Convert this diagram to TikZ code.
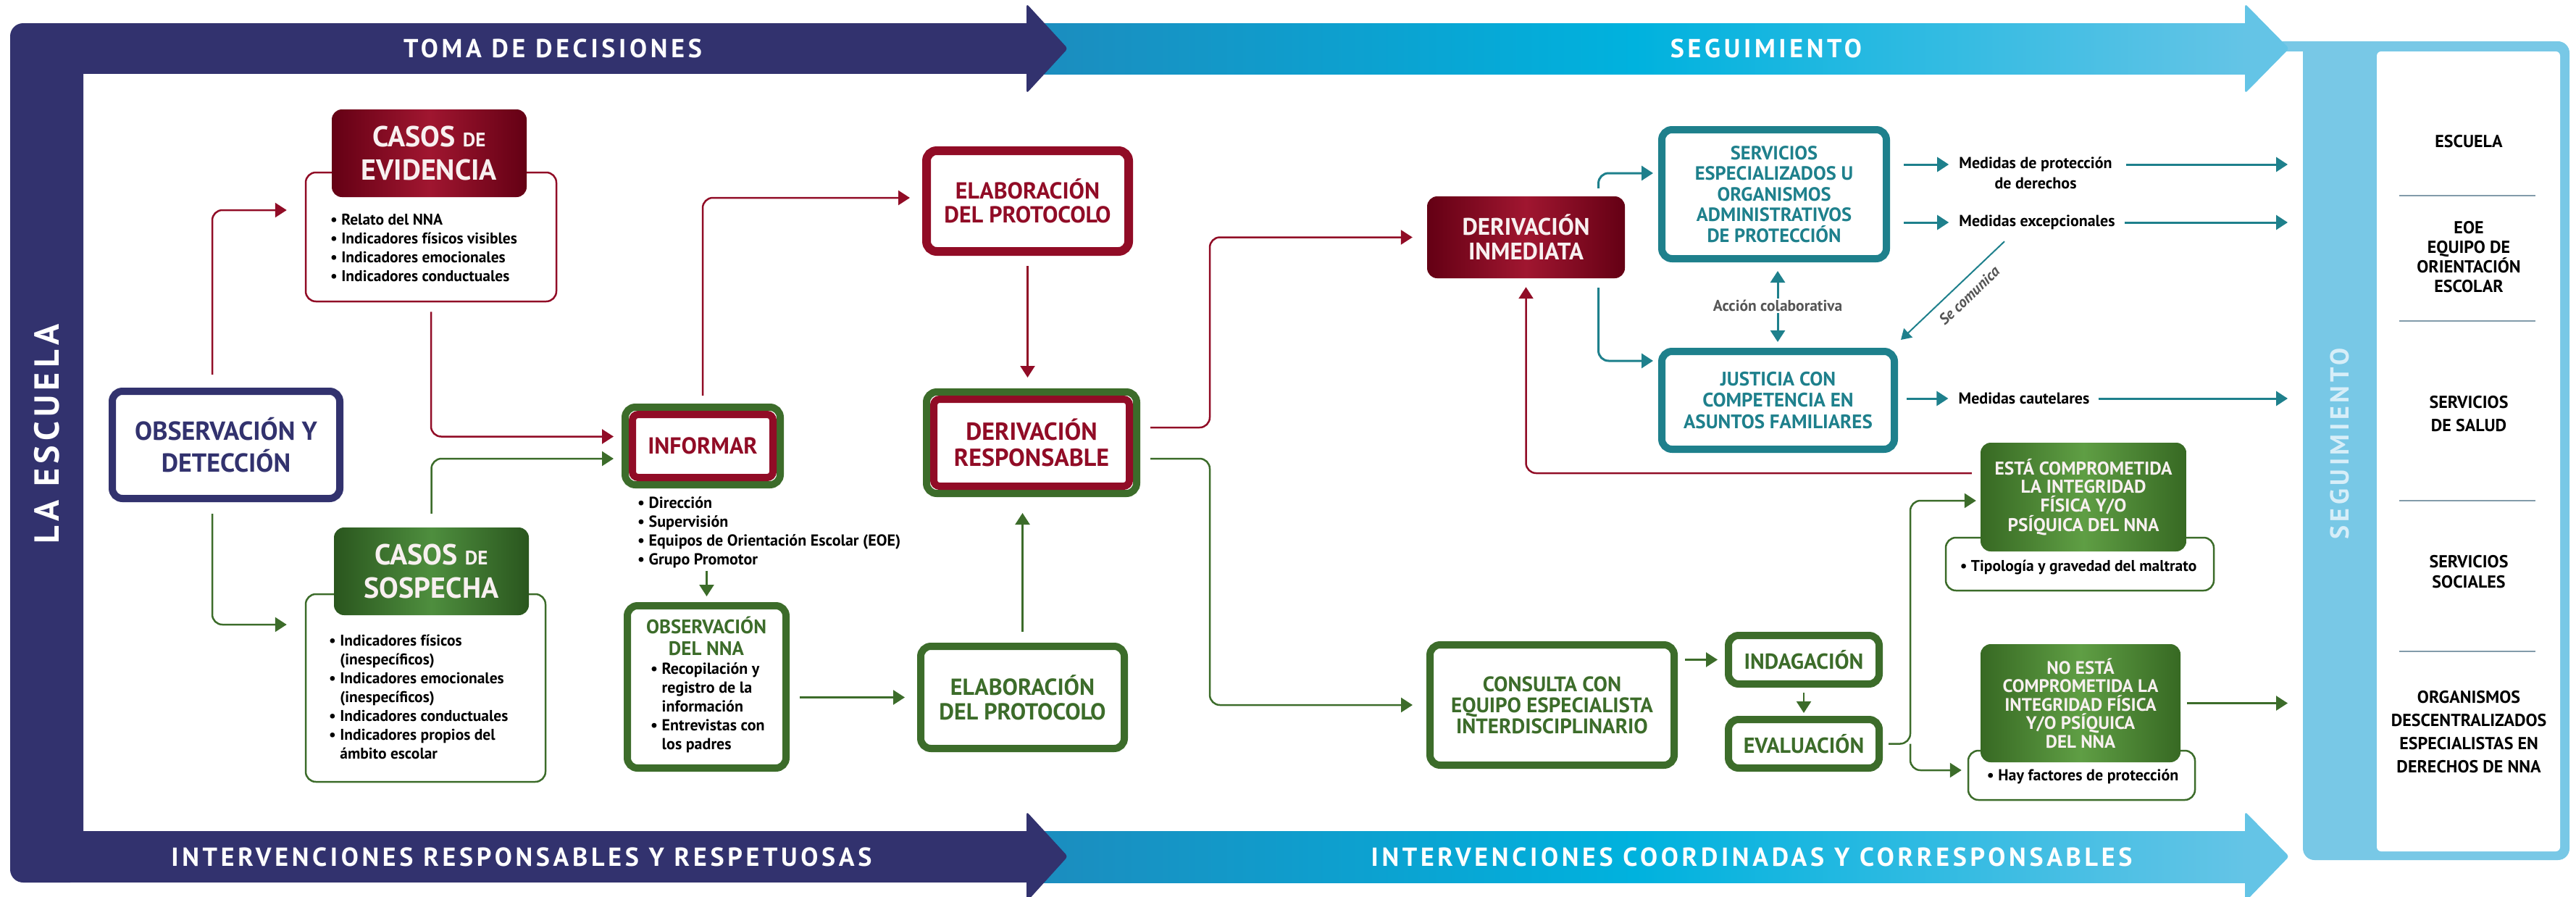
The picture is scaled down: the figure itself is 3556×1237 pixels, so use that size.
\documentclass[tikz,border=0pt]{standalone}
\usepackage{fontspec}
\setmainfont{PT Sans}
\newfontfamily\bandfont{PT Sans}[LetterSpace=13]
\usetikzlibrary{arrows.meta,calc}
\newcommand\myfs[2]{\fontsize{#1pt}{#2pt}\selectfont}
\definecolor{cNavy}{RGB}{50,50,110}
\definecolor{cRed}{RGB}{145,12,38}
\definecolor{cGreen}{RGB}{60,108,42}
\definecolor{cTeal}{RGB}{30,128,140}
\definecolor{cRedDark}{RGB}{100,0,20}
\definecolor{cRedLight}{RGB}{160,22,48}
\definecolor{cGrnDark}{RGB}{42,86,30}
\definecolor{cGrnLight}{RGB}{78,142,62}
\definecolor{cGrnDark2}{RGB}{55,105,35}
\definecolor{cGrnLight2}{RGB}{95,158,68}
\definecolor{cCyanL}{RGB}{28,140,190}
\definecolor{cCyanM}{RGB}{0,178,222}
\definecolor{cCyanR}{RGB}{100,196,230}
\definecolor{cPanel}{RGB}{120,200,230}
\definecolor{cSep}{RGB}{130,155,170}
\definecolor{cGray}{RGB}{85,85,85}
\definecolor{cWhiteTxt}{RGB}{248,240,240}
\definecolor{cBandTxt}{RGB}{215,238,248}
\begin{document}
\begin{tikzpicture}[x=1pt,y=-1pt,
  box/.style={rounded corners=14pt, align=center, inner sep=0pt, fill=white},
  navybox/.style={box, draw=cNavy, line width=10pt, text=cNavy},
  redbox/.style={box, draw=cRed, line width=12pt, text=cRed},
  greenbox/.style={box, draw=cGreen, line width=10pt, text=cGreen},
  tealbox/.style={box, draw=cTeal, line width=10pt, text=cTeal},
  thinred/.style={box, draw=cRed, line width=2.5pt},
  thingreen/.style={box, draw=cGreen, line width=2.5pt},
  ring/.style={draw=cRed, line width=10pt, rounded corners=8pt, inner sep=0pt},
  hdr/.style={rounded corners=14pt, align=center, inner sep=0pt, text=cWhiteTxt},
  redhdr/.style={hdr, left color=cRedDark, right color=cRedDark, middle color=cRedLight},
  grnhdr/.style={hdr, left color=cGrnDark, right color=cGrnDark, middle color=cGrnLight},
  grnhdr2/.style={hdr, left color=cGrnDark2, right color=cGrnDark2, middle color=cGrnLight2},
  txt/.style={inner sep=0pt, align=left, font=\myfs{21.5}{26}\bfseries},
  ctxt/.style={inner sep=0pt, align=center, font=\myfs{22}{26}\bfseries},
  ptxt/.style={inner sep=0pt, align=center, font=\myfs{24}{30}\bfseries},
  conn/.style={line width=2.5pt, rounded corners=14pt},
  tipA/.style={-{Triangle[length=16pt,width=20pt]}},
  redarr/.style={conn, tipA, draw=cRed},
  grnarr/.style={conn, tipA, draw=cGreen},
  tealarr/.style={conn, tipA, draw=cTeal, line width=3pt},
  bandtxt/.style={text=white, font=\bandfont\bfseries\myfs{36}{40}, inner sep=0pt},
]
\useasboundingbox (0,0) rectangle (3556,1237);
\clip (0,0) rectangle (3556,1237);
\fill[white] (0,0) rectangle (3556,1237);
% right panel
\fill[cPanel, rounded corners=16pt] (3179,57) rectangle (3547,1187);
\fill[cPanel] (3150,57) rectangle (3200,71);
\fill[white, rounded corners=6pt] (3281,71) rectangle (3534,1175);
% cyan bands
\shade[left color=cCyanL, right color=cCyanR, middle color=cCyanM] (1417,32) rectangle (3100,102);
\shade[left color=cCyanL, right color=cCyanR, middle color=cCyanM] (1417,1147) rectangle (3100,1218);
\fill[cCyanR, rounded corners=4pt] (3099,5) -- (3160,67) -- (3099,129) -- cycle;
\fill[cCyanR, rounded corners=4pt] (3099,1120) -- (3160,1182) -- (3099,1245) -- cycle;
% navy frame
\fill[cNavy, rounded corners=18pt] (14,32) rectangle (115,1218);
\fill[cNavy] (60,32) rectangle (1418,102);
\fill[cNavy] (60,1147) rectangle (1418,1218);
\fill[cNavy, rounded corners=4pt] (1417,5) -- (1474,67) -- (1417,129) -- cycle;
\fill[cNavy, rounded corners=4pt] (1417,1120) -- (1474,1182) -- (1417,1245) -- cycle;
% band texts
\node[bandtxt] (tTop1) at (763,67) {TOMA DE DECISIONES};
\node[bandtxt] (tTop2) at (2438,67) {SEGUIMIENTO};
\node[bandtxt] (tBot1) at (720,1183) {INTERVENCIONES RESPONSABLES Y RESPETUOSAS};
\node[bandtxt] (tBot2) at (2418,1183) {INTERVENCIONES COORDINADAS Y CORRESPONSABLES};
\node[bandtxt, rotate=90, font=\bandfont\bfseries\myfs{48}{50}] (tLeft) at (65,599) {LA ESCUELA};
\node[bandtxt, rotate=90, text=cBandTxt, font=\bandfont\bfseries\myfs{36}{40}] (tRight) at (3230,612) {SEGUIMIENTO};
% right panel content
\node[ptxt] (rp1) at (3408,195) {ESCUELA};
\node[ptxt, font=\myfs{24}{27}\bfseries] (rp2) at (3408,355) {EOE\\EQUIPO DE\\ORIENTACIÓN\\ESCOLAR};
\node[ptxt, font=\myfs{24}{32}\bfseries] (rp3) at (3408,571) {SERVICIOS\\DE SALUD};
\node[ptxt, font=\myfs{24}{28}\bfseries] (rp4) at (3408,789) {SERVICIOS\\SOCIALES};
\node[ptxt, font=\myfs{24}{32}\bfseries] (rp5) at (3408,1010) {ORGANISMOS\\DESCENTRALIZADOS\\ESPECIALISTAS EN\\DERECHOS DE NNA};
\foreach \yy in {270,443,691,899} \draw[cSep, line width=2pt] (3312,\yy) -- (3500,\yy);
\coordinate (panelL) at (3158,0);
% left column
\node[navybox, minimum width=314pt, minimum height=148pt, font=\myfs{36}{44}\bfseries] (obs) at (312,614) {OBSERVACIÓN Y\\DETECCIÓN};
\node[thinred, minimum width=346pt, minimum height=178pt] (evbody) at (595,327) {};
\node[redhdr, minimum width=269pt, minimum height=121pt, font=\myfs{40}{46}\bfseries] (evhead) at (592.5,211.5) {CASOS {\myfs{27}{46}\bfseries DE}\\EVIDENCIA};
\node[txt, anchor=west] (evlist) at (456,342) {• Relato del NNA\\• Indicadores físicos visibles\\• Indicadores emocionales\\• Indicadores conductuales};
\node[thingreen, minimum width=331pt, minimum height=259pt] (sobody) at (587.5,949.5) {};
\node[grnhdr, minimum width=269pt, minimum height=121pt, font=\myfs{40}{46}\bfseries] (sohead) at (595.5,788.5) {CASOS {\myfs{27}{46}\bfseries DE}\\SOSPECHA};
\node[txt, anchor=west] (solist) at (454,962) {• Indicadores físicos\\\phantom{• }(inespecíficos)\\• Indicadores emocionales\\\phantom{• }(inespecíficos)\\• Indicadores conductuales\\• Indicadores propios del\\\phantom{• }ámbito escolar};
% informar column
\node[greenbox, minimum width=214pt, minimum height=107pt, text=cRed, font=\myfs{32}{34}\bfseries] (informar) at (970,615.5) {INFORMAR};
\node[ring, minimum width=194pt, minimum height=87pt] (informarR) at (informar.center) {};
\node[txt, anchor=west, font=\myfs{22}{26}\bfseries] (infolist) at (880,734.5) {• Dirección\\• Supervisión\\• Equipos de Orientación Escolar (EOE)\\• Grupo Promotor};
\node[greenbox, minimum width=219pt, minimum height=224pt] (obsnna) at (975.5,948) {};
\node[inner sep=0pt, align=center, text=cGreen, font=\myfs{27}{30}\bfseries] (obsnnaT) at (975,878) {OBSERVACIÓN\\DEL NNA};
\node[txt, anchor=west, font=\myfs{22}{26}\bfseries] (obsnnaL) at (898,977) {• Recopilación y\\\phantom{• }registro de la\\\phantom{• }información\\• Entrevistas con\\\phantom{• }los padres};
% protocol column
\node[redbox, minimum width=279pt, minimum height=139pt, font=\myfs{32}{33}\bfseries] (elabR) at (1418.5,277.5) {ELABORACIÓN\\DEL PROTOCOLO};
\node[greenbox, minimum width=290pt, minimum height=140pt, text=cRed, font=\myfs{34}{36}\bfseries] (derresp) at (1424,611) {DERIVACIÓN\\RESPONSABLE};
\node[ring, minimum width=270pt, minimum height=120pt] (derrespR) at (derresp.center) {};
\node[greenbox, minimum width=281pt, minimum height=141pt, font=\myfs{32}{34}\bfseries] (elabG) at (1411.5,962.5) {ELABORACIÓN\\DEL PROTOCOLO};
% derivation column
\node[redhdr, minimum width=273pt, minimum height=113pt, font=\myfs{33}{34}\bfseries] (derinm) at (2106.5,327.5) {DERIVACIÓN\\INMEDIATA};
\node[tealbox, minimum width=310pt, minimum height=178pt, font=\myfs{26.5}{28.5}\bfseries] (serv) at (2449,268) {SERVICIOS\\ESPECIALIZADOS U\\ORGANISMOS\\ADMINISTRATIVOS\\DE PROTECCIÓN};
\node[tealbox, minimum width=321pt, minimum height=135pt, font=\myfs{27}{29.5}\bfseries] (just) at (2454.5,552.5) {JUSTICIA CON\\COMPETENCIA EN\\ASUNTOS FAMILIARES};
\node[inner sep=2pt, text=cGray, font=\myfs{21.5}{24}\bfseries] (accion) at (2454,422) {Acción colaborativa};
\node[ctxt] (med1) at (2810,227) {Medidas de protección};
\node[ctxt] (med1b) at (2810,253) {de derechos};
\node[ctxt] (med2) at (2812,307) {Medidas excepcionales};
\node[ctxt] (med3) at (2794,550) {Medidas cautelares};
\node[greenbox, minimum width=337pt, minimum height=166pt, font=\myfs{29}{29}\bfseries] (consult) at (2142.5,973) {CONSULTA CON\\EQUIPO ESPECIALISTA\\INTERDISCIPLINARIO};
\node[greenbox, minimum width=208pt, minimum height=67pt, font=\myfs{30}{30}\bfseries] (indag) at (2490,910.5) {INDAGACIÓN};
\node[greenbox, minimum width=208pt, minimum height=67pt, font=\myfs{30}{30}\bfseries] (evalu) at (2490,1026.5) {EVALUACIÓN};
\node[thingreen, minimum width=370pt, minimum height=73pt] (estabody) at (2871,778.5) {};
\node[grnhdr2, minimum width=284pt, minimum height=150pt, font=\myfs{25.5}{25.5}\bfseries] (estahead) at (2876,686) {ESTÁ COMPROMETIDA\\LA INTEGRIDAD\\FÍSICA Y/O\\PSÍQUICA DEL NNA};
\node[txt] (estaL) at (2869,783) {• Tipología y gravedad del maltrato};
\node[thingreen, minimum width=313pt, minimum height=68pt] (noestbody) at (2873.5,1070) {};
\node[grnhdr2, minimum width=276pt, minimum height=163pt, font=\myfs{25}{25.5}\bfseries] (noesthead) at (2872,970.5) {NO ESTÁ\\COMPROMETIDA LA\\INTEGRIDAD FÍSICA\\Y/O PSÍQUICA\\DEL NNA};
\node[txt, font=\myfs{22}{26}\bfseries] (noestL) at (2875,1072) {• Hay factores de protección};
% connectors
\draw[redarr, shorten <=18pt, shorten >=25pt] ($(obs.north)+(-19,0)$) |- ($(evbody.west)+(0,-37)$);
\draw[redarr, shorten <=13pt, shorten >=11pt] (evbody.south) |- ($(informar.west)+(0,-13)$);
\draw[grnarr, shorten <=16pt, shorten >=25pt] ($(obs.south)+(-19,0)$) |- ($(sobody.west)+(0,-87.5)$);
\draw[grnarr, shorten <=19pt, shorten >=11pt] (sohead.north) |- ($(informar.west)+(0,17.5)$);
\draw[redarr, shorten <=11pt, shorten >=17pt] (informar.north) |- ($(elabR.west)+(0,-4.5)$);
\draw[redarr, shorten <=14pt, shorten >=15pt] (elabR.south) -- (elabR.south |- derresp.north);
\draw[grnarr, shorten <=4pt, shorten >=8pt] (obsnna.north |- infolist.south) -- (obsnna.north);
\draw[grnarr, shorten <=14pt, shorten >=17pt] (obsnna.east |- elabG.west) -- (elabG.west);
\draw[grnarr, shorten <=15pt, shorten >=22pt] (elabG.north) -- (elabG.north |- derresp.south);
\draw[redarr, shorten <=14pt, shorten >=20pt] ($(derresp.east)+(0,-21)$) -- ++(96,0) |- (derinm.west);
\draw[grnarr, shorten <=14pt, shorten >=19pt] ($(derresp.east)+(0,22)$) -- ++(96,0) |- (consult.west);
\draw[tealarr, shorten <=11pt, shorten >=7pt] ($(derinm.north)+(100,0)$) |- ($(serv.west)+(0,-29)$);
\draw[tealarr, shorten <=13pt, shorten >=7pt] ($(derinm.south)+(100,0)$) |- ($(just.west)+(0,-54.5)$);
\draw[redarr, shorten <=12pt, shorten >=12pt] ($(estahead.west)+(0,-33)$) -| (derinm.south);
\draw[tealarr, shorten >=12pt] (accion.north) -- (accion.north |- serv.south);
\draw[tealarr, shorten >=8pt] (accion.south) -- (accion.south |- just.north);
\draw[tealarr, shorten <=19pt, shorten >=14pt] (serv.east |- med1.west) -- (med1.west);
\draw[tealarr, shorten <=19pt, shorten >=14pt] (serv.east |- med2.west) -- (med2.west);
\draw[tealarr, shorten <=12pt, shorten >=14pt] (just.east |- med3.west) -- (med3.west);
\draw[tealarr, shorten <=19pt] (med1.east) -- (med1.east -| panelL);
\draw[tealarr, shorten <=13pt] (med2.east) -- (med2.east -| panelL);
\draw[tealarr, shorten <=12pt] (med3.east) -- (med3.east -| panelL);
\draw[tealarr, line width=2pt, -{Triangle[length=14pt,width=17pt]}] ($(med2.south)+(-45,16)$) -- node[pos=0.44, sloped, below=12pt, inner sep=0pt, font=\myfs{21}{24}\bfseries\itshape, text=cGray] (secom) {Se comunica} ($(just.north east)+(4,-11)$);
\draw[grnarr, shorten <=10pt, shorten >=10pt] (consult.east |- indag.west) -- (indag.west);
\draw[grnarr, shorten <=7pt, shorten >=4pt] (indag.south) -- (evalu.north);
\draw[grnarr, shorten <=8pt, shorten >=6pt] (evalu.east) -- ++(38,0) |- ($(estahead.west)+(0,5)$);
\draw[grnarr, shorten >=8pt] ($(evalu.east)+(38,0)$) |- ($(noestbody.west)+(0,-7)$);
\draw[grnarr, shorten <=9pt] (noesthead.east) -- (noesthead.east -| panelL);
\end{tikzpicture}
\end{document}
